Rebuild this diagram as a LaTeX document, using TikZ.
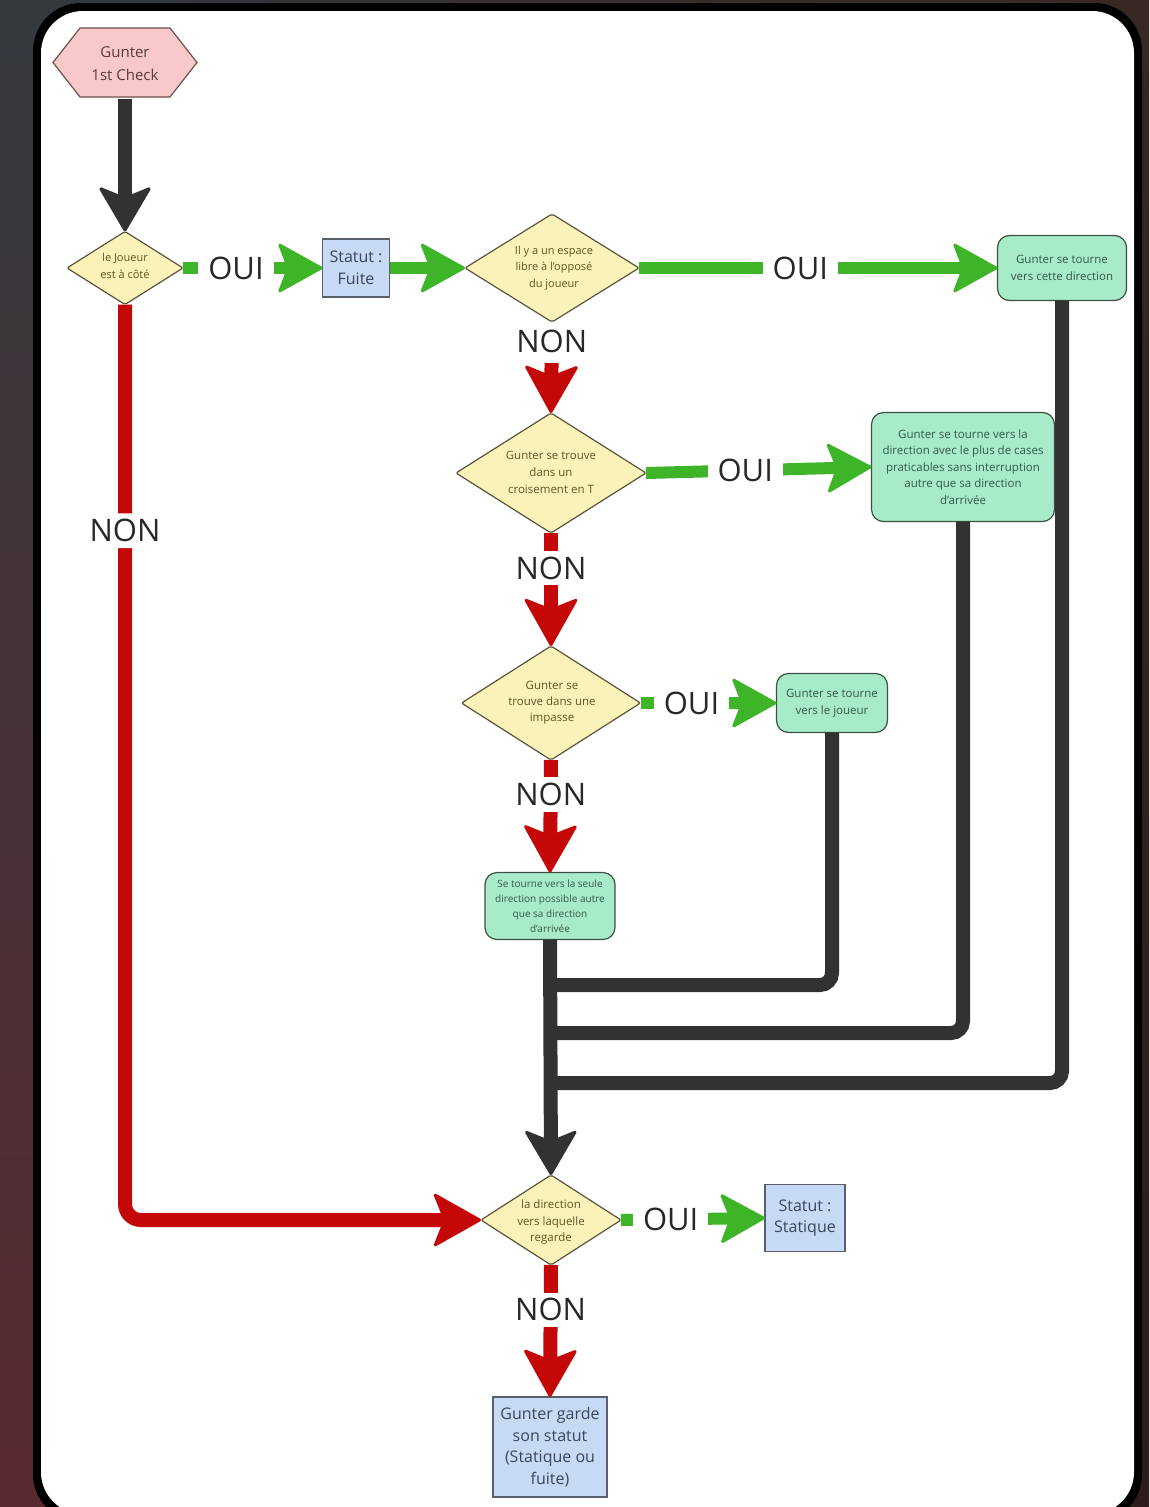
\documentclass[tikz,border=0pt]{standalone}
\usepackage{fontspec}
\setmainfont{Open Sans}
\usetikzlibrary{arrows.meta,shapes.geometric}
\pgfdeclarelayer{back}
\pgfdeclarelayer{mid}
\pgfsetlayers{back,mid,main}
\definecolor{grn}{RGB}{62,180,40}
\definecolor{rdd}{RGB}{196,8,8}
\definecolor{blk}{RGB}{50,50,50}
\definecolor{diaF}{RGB}{250,242,184}
\definecolor{diaB}{RGB}{90,85,60}
\definecolor{diaT}{RGB}{95,85,40}
\definecolor{gF}{RGB}{168,235,200}
\definecolor{gB}{RGB}{60,80,70}
\definecolor{gT}{RGB}{50,90,70}
\definecolor{bF}{RGB}{198,218,246}
\definecolor{bB}{RGB}{90,95,110}
\definecolor{bT}{RGB}{60,70,90}
\definecolor{pF}{RGB}{249,200,200}
\definecolor{pB}{RGB}{110,80,80}
\definecolor{pT}{RGB}{90,60,60}
\definecolor{labT}{RGB}{40,40,40}
\definecolor{bgLT}{RGB}{52,57,62}
\definecolor{bgLB}{RGB}{88,42,48}
\definecolor{bgRT}{RGB}{56,40,36}
\definecolor{bgRB}{RGB}{45,28,28}
\begin{document}
\begin{tikzpicture}[x=1pt,y=-1pt,
  dia/.style={diamond, draw=diaB, fill=diaF, line width=1.2pt, inner sep=0pt, outer sep=0pt, rounded corners=2pt},
  dtxt/.style={align=center, inner sep=0pt, text=diaT, font=\fontsize{11}{16.5}\selectfont},
  gbox/.style={rectangle, rounded corners=12pt, draw=gB, fill=gF, line width=1.2pt, align=center, text=gT, inner sep=0pt, outer sep=0pt, font=\fontsize{11.5}{16.5}\selectfont},
  bbox/.style={rectangle, draw=bB, fill=bF, line width=1.5pt, align=center, text=bT, inner sep=0pt, outer sep=0pt, font=\fontsize{16}{21.5}\selectfont},
  lab/.style={fill=white, text=labT, font=\fontsize{31}{31}\selectfont, inner xsep=10pt, inner ysep=6pt},
  ga/.style={draw=grn, line width=12pt, -{Stealth[length=47pt, width=52pt, inset=10pt, line width=3pt, round]}},
  ra/.style={draw=rdd, line width=14pt, -{Stealth[length=50pt, width=56pt, inset=11pt, line width=3pt, round]}},
  ba/.style={draw=blk, line width=14pt, -{Stealth[length=47pt, width=55pt, inset=11pt, line width=3pt, round]}},
  bl/.style={draw=blk, line width=14pt, rounded corners=12pt}
]
\useasboundingbox (0,0) rectangle (1149,1507);
\clip (0,0) rectangle (1149,1507);
% background and frame
\begin{pgfonlayer}{back}
\shade[top color=bgLT, bottom color=bgLB] (0,0) rectangle (60,1507);
\shade[top color=bgRT, bottom color=bgRB] (1100,0) rectangle (1149,1507);
\shade[left color=bgLT, right color=bgRT] (40,0) rectangle (1110,40);
\fill[black, rounded corners=48pt] (33,3) rectangle (1142,1522);
\fill[white, rounded corners=42pt] (41,11) rectangle (1134,1514);
\end{pgfonlayer}

% start hexagon
\draw[draw=pB, fill=pF, line width=1.2pt] (53,62.5) -- (80,28) -- (170,28) -- (197,62.5) -- (170,97) -- (80,97) -- cycle;
\node[minimum width=144pt, minimum height=69pt, inner sep=0pt, align=center, text=pT, font=\fontsize{15}{23}\selectfont] (hex) at (125,64) {Gunter\\1st Check};

% decision nodes
\node[dia, minimum width=116pt, minimum height=73pt] (d1) at (125,268) {};
\node[dtxt] (d1t) at (125,266) {le Joueur\\est à côté};
\node[dia, minimum width=174pt, minimum height=108pt] (d2) at (552,268) {};
\node[dtxt] (d2t) at (554,268) {Il y a un espace\\libre à l'opposé\\du joueur};
\node[dia, minimum width=190pt, minimum height=120pt] (d3) at (551,473) {};
\node[dtxt, font=\fontsize{11.5}{17}\selectfont] (d3t) at (551,472) {Gunter se trouve\\dans un\\croisement en T};
\node[dia, minimum width=179pt, minimum height=114pt] (d4) at (551,703) {};
\node[dtxt, font=\fontsize{11.5}{16}\selectfont] (d4t) at (552,703) {Gunter se\\trouve dans une\\impasse};
\node[dia, minimum width=140pt, minimum height=90pt] (d5) at (551,1220) {};
\begin{scope}
\clip (490,1192) rectangle (612,1243);
\node[dtxt, font=\fontsize{11.5}{16.5}\selectfont] (d5t) at (551,1222) {la direction\\vers laquelle\\regarde};
\end{scope}

% action boxes
\node[bbox, minimum width=67pt, minimum height=58pt] (fuite) at (356,268) {Statut :\\Fuite};
\node[gbox, minimum width=129pt, minimum height=65pt] (r1) at (1062,268) {Gunter se tourne\\vers cette direction};
\node[gbox, minimum width=183pt, minimum height=109pt] (r2) at (963,467) {Gunter se tourne vers la\\direction avec le plus de cases\\praticables sans interruption\\autre que sa direction\\d'arrivée};
\node[gbox, minimum width=111pt, minimum height=59pt] (r3) at (832,703) {Gunter se tourne\\vers le joueur};
\node[gbox, minimum width=130pt, minimum height=67pt, font=\fontsize{10}{15}\selectfont] (b4) at (550,906) {Se tourne vers la seule\\direction possible autre\\que sa direction\\d'arrivée};
\node[bbox, minimum width=80pt, minimum height=67pt] (stat) at (805,1218) {Statut :\\Statique};
\node[bbox, minimum width=114pt, minimum height=100pt] (garde) at (550,1447) {Gunter garde\\son statut\\(Statique ou\\fuite)};

% junction coordinates
\coordinate (j1) at (551,985);
\coordinate (j2) at (551,1033);
\coordinate (j3) at (551,1083);

% black connectors
\draw[bl] (r1.south) |- (j3);
\draw[bl] (r2.south) |- (j2);
\draw[bl] (r3.south) |- (j1);
\draw[ba] (b4.south) -- (d5.north);
\draw[ba] (hex.south) -- (d1.north);

% green (OUI) connectors
\draw[ga] (d1.east) -- node[lab, pos=0.38] {OUI} (fuite.west);
\draw[ga] (fuite.east) -- (d2.west);
\draw[ga] (d2.east) -- node[lab, pos=0.45] {OUI} (r1.west);
\draw[ga] (d3.east) -- node[lab, pos=0.44] {OUI} (r2.west);
\draw[ga] (d4.east) -- node[lab, pos=0.375] {OUI} (r3.west);
\draw[ga] (d5.east) -- node[lab, pos=0.345] {OUI} (stat.west);

% red (NON) connectors
\begin{pgfonlayer}{mid}
\draw[ra] (d2.south) -- node[lab, pos=0.21, inner ysep=10pt] {NON} (d3.north);
\end{pgfonlayer}
\draw[ra] (d3.south) -- node[lab, pos=0.31] {NON} (d4.north);
\draw[ra] (d4.south) -- node[lab, pos=0.31] {NON} (b4.north);
\draw[ra] (d5.south) -- node[lab, pos=0.34] {NON} (garde.north);
\draw[ra, rounded corners=16pt] (d1.south) |- node[lab, pos=0.1235] {NON} (d5.west);
\end{tikzpicture}
\end{document}
